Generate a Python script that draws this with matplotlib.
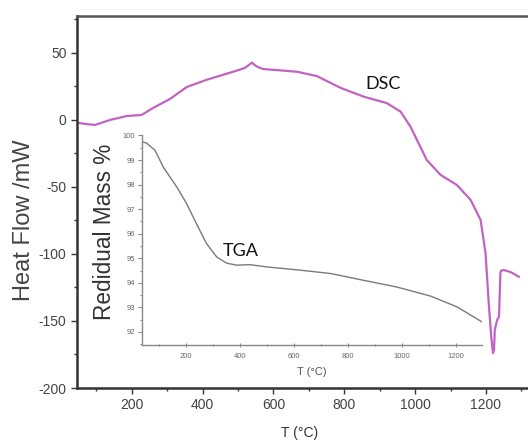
import matplotlib
matplotlib.use("Agg")
import matplotlib.pyplot as plt
from matplotlib.ticker import MultipleLocator

# DSC data (main axes)
dsc_T = [45, 70, 96, 138, 186, 227, 260, 307, 355, 411, 486, 519, 530, 539, 547,
         556, 571, 620, 666, 722, 790, 855, 920, 959, 987, 1033, 1072, 1118, 1157,
         1185, 1199, 1208, 1215, 1220, 1223, 1225, 1232, 1237, 1241, 1243, 1251,
         1270, 1293]
dsc_HF = [-2, -3, -3.7, 0, 3, 3.7, 9, 15.6, 24.6, 30, 36, 38.8, 41, 42.8, 41,
          39.5, 38, 37, 36, 32.8, 23.9, 17.4, 12.6, 6.2, -5, -29.9, -41, -48.5, -59.7,
          -74.6, -99.5, -136.8, -161.7, -174, -171.6, -156.7, -149, -146.8, -114, -112.4, -112,
          -113.5, -117]

# TGA data (inset)
tga_T = [42, 54, 85, 116, 166, 202, 239, 276, 314, 351, 388, 437, 499, 611, 736,
         859, 981, 1106, 1204, 1296]
tga_M = [99.73, 99.69, 99.4, 98.71, 97.9, 97.23, 96.4, 95.6, 95.05, 94.8, 94.72,
         94.74, 94.65, 94.53, 94.38, 94.1, 93.83, 93.46, 93.02, 92.41]

main_xticks = [200, 400, 600, 800, 1000, 1200]
main_yticks = [-200, -150, -100, -50, 0, 50]
inset_xticks = [200, 400, 600, 800, 1000, 1200]
inset_yticks = [92, 93, 94, 95, 96, 97, 98, 99, 100]

plt.rcParams['font.family'] = ['Liberation Sans', 'DejaVu Sans']
plt.rcParams['axes.unicode_minus'] = False

fig = plt.figure(figsize=(5.28, 4.4), dpi=100)
ax = fig.add_axes([77/528, 52/440, 451.4/528, 372/440])

ax.plot(dsc_T, dsc_HF, color='#c262c2', lw=1.6)
ax.set_xlim(45, 1320)
ax.set_ylim(-200, 77.6)
ax.set_xticks(main_xticks)
ax.set_yticks(main_yticks)
ax.xaxis.set_minor_locator(MultipleLocator(100))
ax.yaxis.set_minor_locator(MultipleLocator(25))
ax.tick_params(axis='both', which='major', direction='out', length=4, width=1,
               colors='#333333', labelsize=10, labelcolor='#444444')
ax.tick_params(axis='both', which='minor', direction='out', length=2.5, width=1,
               colors='#333333')
for s in ['left', 'bottom', 'top']:
    ax.spines[s].set_linewidth(1.8)
    ax.spines[s].set_color('#333333')
ax.spines['top'].set_color('#555555')
ax.spines['right'].set_visible(False)

ax.set_xlabel('T (°C)', fontsize=10, color='#333333')
ax.xaxis.set_label_coords(0.494, -0.102)
ax.set_ylabel('Heat Flow /mW', fontsize=17, color='#444444')
ax.yaxis.set_label_coords(-0.093, 0.4516)

ax.text(909, 26.9, 'DSC', fontsize=13, family=['Lato', 'DejaVu Sans'],
        color='#111111', ha='center', va='center')

# inset
ins = fig.add_axes([142/528, 95/440, 340/528, 210/440])
ins.patch.set_alpha(0)
ins.plot(tga_T, tga_M, color='#7a7a7a', lw=1.0)
ins.set_xlim(37, 1296)
ins.set_ylim(91.47, 100.02)
ins.set_xticks(inset_xticks)
ins.set_yticks(inset_yticks)
ins.xaxis.set_minor_locator(MultipleLocator(100))
ins.yaxis.set_minor_locator(MultipleLocator(0.5))
ins.tick_params(axis='both', which='major', direction='out', length=3, width=0.8,
                colors='#888888', labelsize=5.5, labelcolor='#666666', pad=2)
ins.tick_params(axis='both', which='minor', direction='out', length=1.5, width=0.8,
                colors='#888888')
ins.tick_params(axis='x', which='both', direction='inout', pad=4)
for s in ['top', 'right']:
    ins.spines[s].set_visible(False)
for s in ['left', 'bottom']:
    ins.spines[s].set_color('#888888')
    ins.spines[s].set_linewidth(1.0)
ins.set_xlabel('T (°C)', fontsize=8, color='#555555', labelpad=5)
ins.set_ylabel('Redidual Mass %', fontsize=16.3, color='#333333')
ins.yaxis.set_label_coords(-0.076, 0.538)

ins.text(404, 95.28, 'TGA', fontsize=13, family=['Lato', 'DejaVu Sans'],
         color='#111111', ha='center', va='center')

fig.savefig('out.png', dpi=100)
